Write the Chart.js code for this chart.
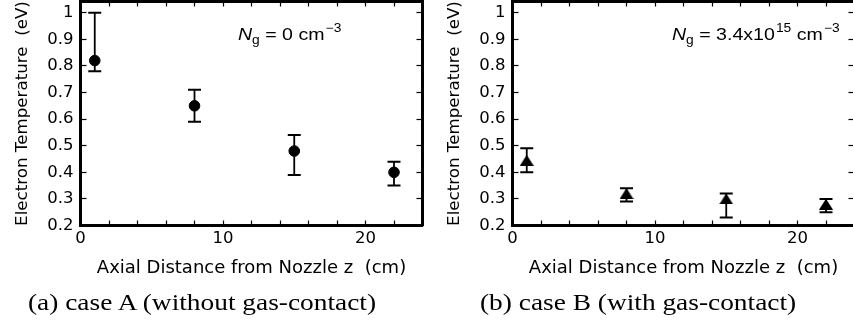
<!DOCTYPE html>
<html>
<head>
<meta charset="utf-8">
<script src="https://cdn.jsdelivr.net/npm/chart.js@4.4.1/dist/chart.umd.min.js"></script>
<style>
html, body { margin: 0; padding: 0; background: #fff; overflow: hidden; width: 853px; height: 328px; }
.panel { position: absolute; top: 0; width: 430px; height: 328px; }
#pa { left: 0; }
#pb { left: 432px; }
.note { position: absolute; top: 26px; font-family: "Liberation Sans", Arial, sans-serif; font-size: 17px; line-height: 1;
        white-space: nowrap; transform-origin: 0 0; transform: scaleX(1.15); color: #000; }
.note .sub { position: relative; top: 4px; font-size: 12px; }
.note .sup { position: relative; top: -8px; font-size: 12px; margin-left: 1px; }
.cap { position: absolute; top: 291px; font-family: "Liberation Serif", "Times New Roman", serif; font-size: 23px; line-height: 1;
       white-space: nowrap; transform-origin: 0 0; transform: scaleX(1.19); color: #000; }
</style>
</head>
<body>
<div class="panel" id="pa"><canvas id="chartA"></canvas></div>
<div class="panel" id="pb"><canvas id="chartB"></canvas></div>
<div class="note" style="left:238px"><i>N</i><span class="sub">g</span> = 0 cm<span class="sup">&minus;3</span></div>
<div class="note" style="left:672px"><i>N</i><span class="sub">g</span> = 3.4x10<span class="sup">15</span> cm<span class="sup">&minus;3</span></div>
<div class="cap" style="left:28px">(a) case A (without gas-contact)</div>
<div class="cap" style="left:480px">(b) case B (with gas-contact)</div>
<script>
// case A (no gas contact)
var zA = [1, 8, 15, 22]
var teA = [0.82, 0.65, 0.48, 0.40]
var loA = [0.78, 0.59, 0.39, 0.35]
var hiA = [1.00, 0.71, 0.54, 0.44]

// case B (gas contact)
var zB = [1, 8, 15, 22]
var teB = [0.445, 0.32, 0.30, 0.28]
var loB = [0.40, 0.29, 0.23, 0.25]
var hiB = [0.49, 0.34, 0.32, 0.30]

var xTickLabels = [0, 10, 20]
var xLimits = [0, 24]
var yLimits = [0.2, 1.042]

var xTitle = 'Axial Distance from Nozzle z  (cm)'
var yTitle = 'Electron Temperature  (eV)'

Chart.defaults.color = '#000'
Chart.defaults.font.family = '"DejaVu Sans", sans-serif'

function points(xs, ys) {
  var pts = []
  for (let i in xs) pts.push({x: xs[i], y: ys[i]})
  return pts
}

// each bar = lo, hi, then a gap so the line breaks
function errorBars(xs, lo, hi) {
  var pts = []
  for (let i in xs) {
    pts.push({x: xs[i], y: lo[i]}, {x: xs[i], y: hi[i]}, {x: xs[i], y: null})
  }
  return pts
}

function makeTriangle(w, h) {
  var c = document.createElement('canvas')
  c.width = w
  c.height = h
  var ctx = c.getContext('2d')
  ctx.fillStyle = '#000'
  ctx.beginPath()
  ctx.moveTo(w / 2, 0)
  ctx.lineTo(w, h)
  ctx.lineTo(0, h)
  ctx.closePath()
  ctx.fill()
  return c
}

// fixed box sizes, no label overflow padding
function fixSize(w, h) {
  return function (s) {
    if (w !== null) s.width = w
    if (h !== null) s.height = h
    s.paddingTop = 0
    s.paddingBottom = 0
    s.paddingLeft = 0
    s.paddingRight = 0
  }
}

function makeOptions() {
  var inner = {drawOnChartArea: false, tickColor: '#000', tickWidth: 1.2}
  var frame = {display: true, color: '#000', width: 3}
  return {
    responsive: true,
    maintainAspectRatio: false,
    animation: false,
    events: [],
    layout: {autoPadding: false, padding: {left: 0, right: 6.5, top: 0, bottom: 0}},
    plugins: {legend: {display: false}, tooltip: {enabled: false}},
    scales: {
      x: {
        type: 'linear', position: 'bottom', min: xLimits[0], max: xLimits[1],
        grid: Object.assign({tickLength: -5}, inner),
        border: frame,
        ticks: {
          stepSize: 2, autoSkip: false, maxRotation: 0, padding: 8,
          font: {size: 16.5},
          callback: function (v) { return xTickLabels.indexOf(v) >= 0 ? String(v) : '' }
        },
        title: {display: true, text: xTitle, font: {size: 18}, padding: {top: 0, bottom: 49}},
        afterFit: fixSize(null, 102.5)
      },
      x2: {
        type: 'linear', position: 'top', min: xLimits[0], max: xLimits[1],
        grid: Object.assign({tickLength: -5}, inner),
        border: frame,
        ticks: {display: false, stepSize: 2, autoSkip: false},
        afterFit: fixSize(null, 1.5)
      },
      y: {
        type: 'linear', position: 'left', min: yLimits[0], max: yLimits[1],
        grid: Object.assign({tickLength: -6}, inner),
        border: frame,
        ticks: {
          stepSize: 0.1, includeBounds: false, autoSkip: false, padding: 13,
          font: {size: 16.5},
          callback: function (v) { return v === 1 ? '1' : v.toFixed(1) }
        },
        title: {display: true, text: yTitle, font: {size: 16.7}, padding: {top: 13, bottom: 0}},
        afterFit: fixSize(80.5, null)
      },
      y2: {
        type: 'linear', position: 'right', min: yLimits[0], max: yLimits[1],
        grid: Object.assign({tickLength: -6}, inner),
        border: frame,
        ticks: {display: false, stepSize: 0.1, includeBounds: false, autoSkip: false},
        afterFit: fixSize(1, null)
      }
    }
  }
}

function makeChart(id, xs, ys, lo, hi, marker) {
  var data = {
    datasets: [
      {
        data: points(xs, ys),
        pointStyle: marker.style,
        pointRadius: marker.radius,
        pointBorderWidth: marker.border,
        pointBackgroundColor: '#000',
        pointBorderColor: '#000',
        showLine: false
      },
      {
        data: errorBars(xs, lo, hi),
        showLine: true,
        spanGaps: false,
        borderColor: '#000',
        borderWidth: 1.8,
        pointStyle: 'line',
        pointRadius: 6.5,
        pointBorderWidth: 2,
        pointBorderColor: '#000'
      }
    ]
  }
  return new Chart(document.getElementById(id), {type: 'scatter', data: data, options: makeOptions()})
}

makeChart('chartA', zA, teA, loA, hiA, {style: 'circle', radius: 5.3, border: 1})
makeChart('chartB', zB, teB, loB, hiB, {style: makeTriangle(14, 11), radius: 7, border: 0})
</script>
</body>
</html>
